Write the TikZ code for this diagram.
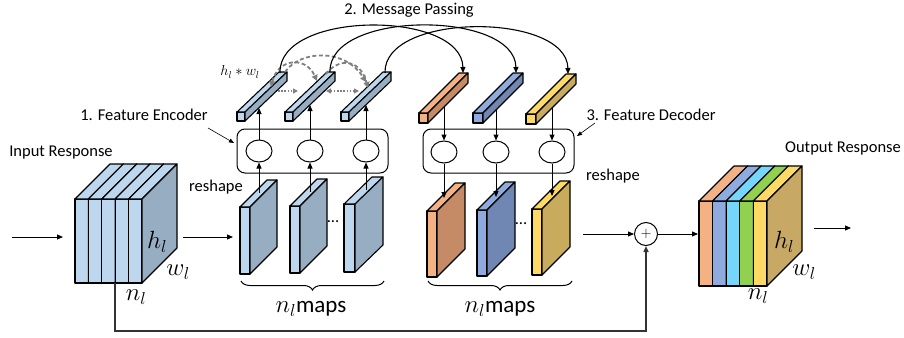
\documentclass[tikz,border=0pt]{standalone}
\usepackage{fontspec}
\setmainfont{Carlito}
\usetikzlibrary{arrows.meta,decorations.pathreplacing,shapes.geometric,calc}
\definecolor{lb}{HTML}{BDD7EE}
\definecolor{sb}{HTML}{97ADC2}
\definecolor{cor}{HTML}{F4B183}
\definecolor{cors}{HTML}{C48B66}
\definecolor{cbl}{HTML}{8FAADC}
\definecolor{cbls}{HTML}{6F87B2}
\definecolor{cye}{HTML}{FFD966}
\definecolor{cyes}{HTML}{C9AB5E}
\definecolor{ccy}{HTML}{75D6FB}
\definecolor{cgr}{HTML}{92D050}
\definecolor{ctan}{HTML}{C8A865}
% #1 x1, #2 y1, #3 x2, #4 y2, #5 dx, #6 dy, #7 front, #8 top, #9 side
\newcommand\cubo[9]{%
  \filldraw[fill=#7,cuboline] (#1,#2) rectangle (#3,#4);
  \filldraw[fill=#8,cuboline] (#1,#2) -- (#3,#2) -- ++(#5,#6) -- ++({(#1)-(#3)},0) -- cycle;
  \filldraw[fill=#9,cuboline] (#3,#2) -- ++(#5,#6) -- ++(0,{(#4)-(#2)}) -- ++({-(#5)},{-(#6)}) -- cycle;
}
\tikzset{
  cuboline/.style={draw=black,line width=1.1pt,line join=round},
  arr/.style={-{Triangle[length=6pt,width=5pt]},line width=1pt},
  thinarr/.style={-{Triangle[length=5pt,width=4pt]},line width=0.6pt},
  lbl/.style={font=\fontsize{16.5}{19}\selectfont,inner sep=0pt},
  mth/.style={font=\fontsize{23}{26}\selectfont,inner sep=0pt},
  unit/.style={draw=black,ellipse,line width=1pt,minimum width=26pt,minimum height=22pt,inner sep=0pt},
  grp/.style={draw=black,rounded corners=8pt,line width=1pt,inner sep=0pt},
  gdash/.style={draw=gray,dash pattern=on 4pt off 2.5pt,line width=1.8pt},
  ghead/.style={-{Triangle[length=6pt,width=6pt]}},
  gdot/.style={draw=gray,dash pattern=on 1.6pt off 1.6pt,line width=1.6pt},
  brc/.style={decorate,decoration={brace,amplitude=9pt,mirror},line width=1pt},
}
\begin{document}
\begin{tikzpicture}[x=1pt,y=-1pt]
\useasboundingbox (0,0) rectangle (904,337);

% ---------- input cube ----------
\foreach \a/\b in {75/88.4,88.4/101.8,101.8/115.2,115.2/128.6,128.6/142}{
  \cubo{\a}{199}{\b}{283}{35}{-35}{lb}{lb}{sb}
}
\node[mth] (hin) at (157,242) {$h_l$};
\node[mth] (win) at (178,272) {$w_l$};
\node[mth] (nin) at (136,297) {$n_l$};
\node[lbl] (tin) at (61,153) {Input Response};
\coordinate (inA) at (12,237);
\coordinate (inB) at (63,237);
\draw[arr] (inA) -- (inB);
\coordinate (cA) at (183,237);
\coordinate (cB) at (233,237);
\draw[arr] (cA) -- (cB);
\node[lbl] (rs1) at (216,187) {reshape};

% ---------- encoder maps ----------
\cubo{240}{207}{250}{274}{27}{-27}{lb}{lb}{sb}
\cubo{290}{206}{300}{273}{27}{-27}{lb}{lb}{sb}
\cubo{344}{204}{355}{272}{28}{-27}{lb}{lb}{sb}
\node[lbl] (dots1) at (333,222) {...};
\draw[brc] (241,281) -- (384,281);
\node[mth] (nm1) at (311,309) {$n_l$maps};

% ---------- encoder ----------
\node[grp,minimum width=151pt,minimum height=44pt] (enc) at (312.5,151) {};
\node[unit] (e1) at (259,151) {};
\node[unit] (e2) at (310,151) {};
\node[unit] (e3) at (366,151) {};
\coordinate (em1) at (259,193);
\coordinate (em2) at (310,192);
\coordinate (em3) at (366,190);
\draw[arr] (em1) -- (e1);
\draw[arr] (em2) -- (e2);
\draw[arr] (em3) -- (e3);
\node[lbl] (fe) at (144,115) {1. Feature Encoder};
\coordinate (feA) at (208,128);
\coordinate (feB) at (234,143);
\draw[thinarr] (feA) -- (feB);

% ---------- encoder bars ----------
\cubo{237}{112}{245}{121}{42}{-40}{lb}{lb}{sb}
\cubo{285}{112}{293}{121}{42}{-40}{lb}{lb}{sb}
\cubo{341}{112}{349}{121}{42}{-40}{lb}{lb}{sb}
\coordinate (eb1) at (259,108);
\coordinate (eb2) at (310,105);
\coordinate (eb3) at (366,105);
\draw[arr] (e1) -- (eb1);
\draw[arr] (e2) -- (eb2);
\draw[arr] (e3) -- (eb3);
\node[font=\fontsize{14}{16}\selectfont,inner sep=0pt] (hw) at (240,72) {$h_l * w_l$};

% gray dashed message arcs among encoder bars
\coordinate (g1a) at (271,87);
\coordinate (g1b) at (317,81);
\coordinate (g2a) at (326,74);
\coordinate (g2b) at (368,88);
\coordinate (g3a) at (285,72);
\coordinate (g3b) at (366,82);
\draw[gdash,ghead] (g3a) .. controls (300,50) and (345,48) .. (g3b);
\draw[gdash,{Triangle[length=6pt,width=6pt]}-{Triangle[length=6pt,width=6pt]}] (g1a) .. controls (278,58) and (306,56) .. (g1b);
\draw[gdash,ghead] (g2a) .. controls (338,58) and (360,58) .. (g2b);
\coordinate (d1a) at (278,91);
\coordinate (d1b) at (298,91);
\coordinate (d2a) at (326,91);
\coordinate (d2b) at (359,91);
\draw[gdot,-{Triangle[length=5pt,width=5pt]}] (d1a) -- (d1b);
\draw[gdot,{Triangle[length=5pt,width=5pt]}-{Triangle[length=5pt,width=5pt]}] (d2a) -- (d2b);

% ---------- decoder bars ----------
\cubo{419}{113}{428}{123}{40}{-40}{cor}{cor}{cors}
\cubo{473}{113}{483}{123}{40}{-40}{cbl}{cbl}{cbls}
\cubo{526}{114}{536}{124}{40}{-40}{cye}{cye}{cyes}

% black message arcs
\coordinate (m1a) at (280,73);
\coordinate (m2a) at (330,72);
\coordinate (m3a) at (385,73);
\coordinate (m1b) at (463,73);
\coordinate (m2b) at (516,73);
\coordinate (m3b) at (568,74);
\draw[arr,line width=1.1pt] (m1a) .. controls (278,10) and (462,10) .. (m1b);
\draw[arr,line width=1.1pt] (m2a) .. controls (328,10) and (515,10) .. (m2b);
\draw[arr,line width=1.1pt] (m3a) .. controls (383,12) and (567,12) .. (m3b);
\node[lbl] (mp) at (409,10) {2. Message Passing};

% ---------- decoder ----------
\node[grp,minimum width=151pt,minimum height=44pt] (dec) at (498.5,151) {};
\node[unit] (d1) at (444,152) {};
\node[unit] (d2) at (496,152) {};
\node[unit] (d3) at (552,152) {};
\coordinate (db1) at (444,107);
\coordinate (db2) at (496,110);
\coordinate (db3) at (552,108);
\draw[arr] (db1) -- (d1);
\draw[arr] (db2) -- (d2);
\draw[arr] (db3) -- (d3);
\node[lbl] (fd) at (651,115) {3. Feature Decoder};
\coordinate (fdA) at (595,123);
\coordinate (fdB) at (577,136);
\draw[thinarr] (fdA) -- (fdB);
\node[lbl] (rs2) at (613,176) {reshape};

% ---------- decoder maps ----------
\cubo{427}{211}{437}{277}{28}{-28}{cor}{cor}{cors}
\cubo{477}{210}{487}{276}{28}{-28}{cbl}{cbl}{cbls}
\cubo{532}{209}{542}{275}{28}{-28}{cye}{cye}{cyes}
\coordinate (dm1) at (444,198);
\coordinate (dm2) at (496,197);
\coordinate (dm3) at (552,196);
\draw[arr] (d1) -- (dm1);
\draw[arr] (d2) -- (dm2);
\draw[arr] (d3) -- (dm3);
\node[lbl] (dots2) at (521,224) {...};
\draw[brc] (428,281) -- (572,281);
\node[mth] (nm2) at (500,309) {$n_l$maps};

% ---------- sum ----------
\node[draw,circle,line width=1pt,minimum size=23pt,inner sep=0pt,font=\fontsize{14}{16}\selectfont] (plus) at (646,234) {$+$};
\coordinate (sA) at (583,234);
\draw[arr] (sA) -- (plus);
\coordinate (oA) at (698,234);
\draw[arr] (plus) -- (oA);
\coordinate (skip) at (115,283);
\draw[arr,line width=1.4pt,draw=black!80] (skip) -- ++(0,48) -| (plus.south);

% ---------- output cube ----------
\cubo{699}{201}{712.6}{286}{35}{-35}{cor}{cor}{ctan}
\cubo{712.6}{201}{726.2}{286}{35}{-35}{cbl}{cbl}{ctan}
\cubo{726.2}{201}{739.8}{286}{35}{-35}{ccy}{ccy}{ctan}
\cubo{739.8}{201}{753.4}{286}{35}{-35}{cgr}{cgr}{ctan}
\cubo{753.4}{201}{767}{286}{35}{-35}{cye}{cye}{ctan}
\node[mth] (hout) at (784,242) {$h_l$};
\node[mth] (wout) at (804,272) {$w_l$};
\node[mth] (nout) at (758,296) {$n_l$};
\node[lbl] (tout) at (843,148) {Output Response};
\coordinate (outA) at (814,228);
\coordinate (outB) at (851,228);
\draw[arr] (outA) -- (outB);
\end{tikzpicture}
\end{document}
